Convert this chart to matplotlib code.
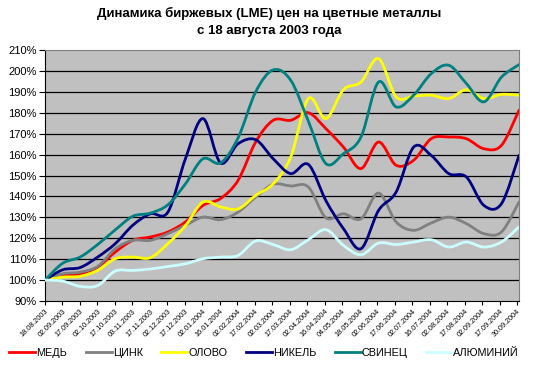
import matplotlib
matplotlib.use("Agg")
import matplotlib.pyplot as plt
from matplotlib.path import Path
from matplotlib.patches import PathPatch
from matplotlib.lines import Line2D
import numpy as np

plt.rcParams['font.family'] = ['Liberation Sans', 'DejaVu Sans']

dates = ["18.08.2003", "02.09.2003", "17.09.2003", "02.10.2003", "17.10.2003",
         "03.11.2003", "17.11.2003", "02.12.2003", "17.12.2003", "02.01.2004",
         "16.01.2004", "02.02.2004", "17.02.2004", "02.03.2004", "17.03.2004",
         "02.04.2004", "16.04.2004", "04.05.2004", "18.05.2004", "02.06.2004",
         "17.06.2004", "02.07.2004", "16.07.2004", "02.08.2004", "17.08.2004",
         "02.09.2004", "17.09.2004", "30.09.2004"]

med = [100, 102.2, 103, 106.2, 113.4, 119, 120.6, 123, 127.8, 135.7, 139, 147.7, 166, 176.4,
       176.4, 180, 172.4, 163.6, 153.3, 166, 154.9, 157.3, 167.6, 168.4, 167.6, 162.8, 164.4, 181.2]
cink = [100, 103, 103.8, 106.5, 115, 119, 119, 122.2, 126.2, 130.1, 128.9, 132.5, 139.7, 145.8,
        145, 144.5, 129.8, 131.7, 129.3, 141.6, 127.8, 123.8, 127.3, 130.1, 127, 122.2, 123, 137.3]
olovo = [100, 101.4, 101.8, 104.6, 110.2, 111, 110.7, 117.4, 126, 137.3, 135, 134, 140.5, 146,
         158.9, 186.8, 177.2, 191, 194.7, 205.9, 187.6, 188, 188.4, 186.8, 191, 186.8, 188.8, 188.4]
nikel = [100, 104.9, 106, 111, 117.4, 126.2, 131.7, 132.5, 158, 177.2, 156, 165.2, 167.1, 158,
         150.9, 155.3, 138, 124.6, 115, 133.3, 142.1, 163.6, 159.6, 150.9, 149.3, 135.7, 136.5, 159.6]
svinec = [100, 108, 111, 117, 124, 130.5, 132, 136, 146, 158, 156, 168, 190, 200.5,
          195.5, 176, 155.7, 160.4, 168.4, 194.7, 182.8, 188.4, 198.7, 202.7, 194, 185.2, 197, 203]
alum = [100, 99.5, 97, 97.4, 104.3, 104.6, 105.3, 106.5, 107.8, 110.2, 111, 111.8, 118.7, 117,
        114.5, 119.3, 124.1, 116.6, 112.1, 117.7, 117, 118.2, 119.3, 115.8, 118.2, 115.8, 118.2, 125.4]

series = [("МЕДЬ", med, "#FF0000"), ("ЦИНК", cink, "#808080"), ("ОЛОВО", olovo, "#FFFF00"),
          ("НИКЕЛЬ", nikel, "#000080"), ("СВИНЕЦ", svinec, "#008080"), ("АЛЮМИНИЙ", alum, "#CCFFFF")]

fig = plt.figure(figsize=(5.5, 3.68), dpi=100)
ax = fig.add_axes([45/550, 1-301/368, (519-45)/550, (301-50)/368])
ax.set_facecolor("#C0C0C0")


def smooth_path(xs, ys):
    pts = np.column_stack([xs, ys]).astype(float)
    n = len(pts)
    verts = [pts[0]]
    codes = [Path.MOVETO]
    for i in range(n - 1):
        p0 = pts[i - 1] if i > 0 else pts[i]
        p1 = pts[i]
        p2 = pts[i + 1]
        p3 = pts[i + 2] if i + 2 < n else pts[i + 1]
        c1 = p1 + (p2 - p0) / 6.0
        c2 = p2 - (p3 - p1) / 6.0
        verts += [c1, c2, p2]
        codes += [Path.CURVE4] * 3
    return Path(verts, codes)


x = np.arange(len(dates)) * 27.1 / 27
handles = []
for name, vals, col in series:
    pp = PathPatch(smooth_path(x, vals), facecolor="none", edgecolor=col, lw=2.0,
                   capstyle="round", joinstyle="round", zorder=3)
    ax.add_patch(pp)
    handles.append(Line2D([0], [0], color=col, lw=2.0, label=name))

ax.set_xlim(0, 27.1)
ax.set_ylim(90, 210)
yt = np.arange(90, 211, 10)
ax.set_yticks(yt)
ax.set_yticklabels([f"{v}%" for v in yt], fontsize=8)
for v in yt[1:-1]:
    ax.axhline(v, color="black", lw=0.9, zorder=1)

ax.set_xticks(np.arange(len(dates)))
ax.set_xticklabels(dates, rotation=45, ha="right", va="top", rotation_mode="anchor", fontsize=5.2)
ax.tick_params(axis="x", length=3, width=0.8, pad=2)
ax.tick_params(axis="y", length=4, width=0.8, pad=2)

ax.spines["left"].set_color("black")
ax.spines["bottom"].set_color("black")
ax.spines["top"].set_color("#808080")
ax.spines["right"].set_color("#808080")

fig.text(0.49, 1-13/368, "Динамика биржевых (LME) цен на цветные металлы", ha="center", va="center",
         fontsize=9.5, fontweight="bold")
fig.text(0.49, 1-31/368, "с 18 августа 2003 года", ha="center", va="center",
         fontsize=9.5, fontweight="bold")

fig.legend(handles=handles, loc="center", bbox_to_anchor=(0.48, 1-353/368), ncol=6, frameon=False,
           fontsize=7.8, handlelength=2.4, handletextpad=0.1, columnspacing=1.7)

fig.savefig("out.png", dpi=100)
